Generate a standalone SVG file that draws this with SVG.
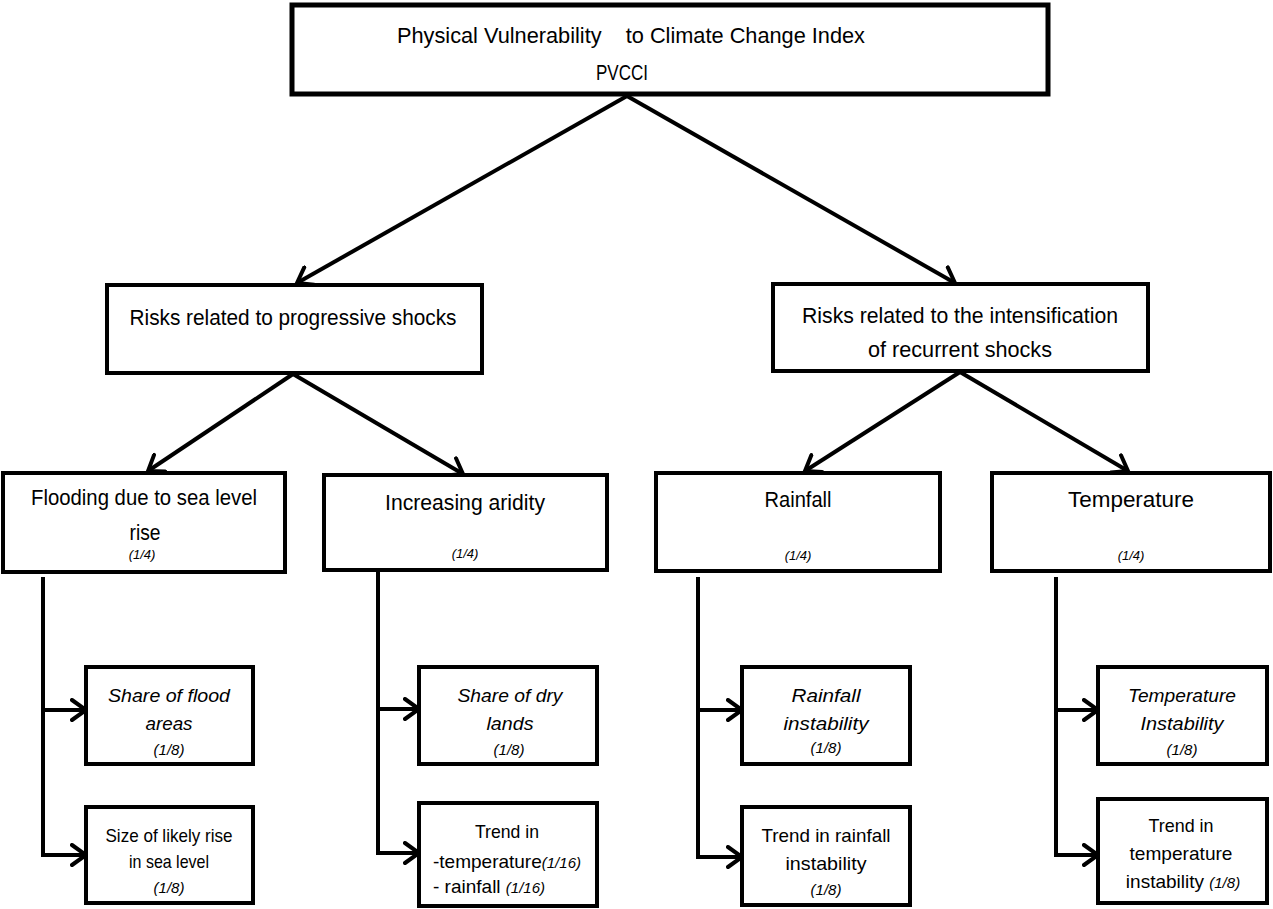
<svg xmlns="http://www.w3.org/2000/svg" width="1273" height="909" viewBox="0 0 1273 909">
<style>
.box{fill:#fff;stroke:#000;stroke-width:4}
.t{font-family:"Liberation Sans",Arial,sans-serif;font-size:22px;fill:#000;text-anchor:middle}
.s{font-family:"Liberation Sans",Arial,sans-serif;font-size:19px;fill:#000;text-anchor:middle}
.i{font-style:italic}
.f{font-size:15px}
.w{font-family:"Liberation Sans",Arial,sans-serif;font-size:13px;font-style:italic;fill:#000;text-anchor:middle}
.c{fill:none;stroke:#000;stroke-width:4;marker-end:url(#ah)}
</style>
<defs>
<marker id="ah" viewBox="0 0 18 24" refX="16" refY="12" markerWidth="18" markerHeight="24" markerUnits="userSpaceOnUse" orient="auto">
<path d="M2,2 L16,12 L2,22" fill="none" stroke="#000" stroke-width="4" stroke-linecap="round" stroke-linejoin="miter"/>
</marker>
</defs>
<g id="connectors">
<path class="c" d="M627,96 L297,283"/>
<path class="c" d="M627,96 L955,283"/>
<path class="c" d="M293,374 L148,471"/>
<path class="c" d="M293,374 L463,474"/>
<path class="c" d="M960,372 L805,471"/>
<path class="c" d="M960,372 L1128,471"/>
<path class="c" d="M43,577 V855 H86"/>
<path class="c" d="M43,710 H86"/>
<path class="c" d="M378,572 V853 H419"/>
<path class="c" d="M378,709 H419"/>
<path class="c" d="M698,577 V857 H742"/>
<path class="c" d="M698,710 H742"/>
<path class="c" d="M1056,577 V855 H1098"/>
<path class="c" d="M1056,710 H1098"/>
</g>
<g id="pvcci">
<rect class="box" x="292" y="5" width="756" height="89" style="stroke-width:5"/>
<text class="t" x="631" y="43" textLength="468" lengthAdjust="spacingAndGlyphs" style="white-space:pre">Physical Vulnerability    to Climate Change Index</text>
<text class="t" x="622" y="80" textLength="52" lengthAdjust="spacingAndGlyphs">PVCCI</text>
</g>
<g id="progressive">
<rect class="box" x="107" y="285" width="375" height="88"/>
<text class="t" x="293" y="325" textLength="327" lengthAdjust="spacingAndGlyphs">Risks related to progressive shocks</text>
</g>
<g id="recurrent">
<rect class="box" x="773" y="284" width="375" height="87"/>
<text class="t" x="960" y="323" textLength="316" lengthAdjust="spacingAndGlyphs">Risks related to the intensification</text>
<text class="t" x="960" y="357" textLength="184" lengthAdjust="spacingAndGlyphs">of recurrent shocks</text>
</g>
<g id="flooding">
<rect class="box" x="3" y="473" width="282" height="99"/>
<text class="t" x="144" y="505" textLength="226" lengthAdjust="spacingAndGlyphs">Flooding due to sea level</text>
<text class="t" x="145" y="540" textLength="31" lengthAdjust="spacingAndGlyphs">rise</text>
<text class="w" x="142" y="559">(1/4)</text>
</g>
<g id="aridity">
<rect class="box" x="324" y="475" width="283" height="95"/>
<text class="t" x="465" y="510" textLength="160" lengthAdjust="spacingAndGlyphs">Increasing aridity</text>
<text class="w" x="465" y="558">(1/4)</text>
</g>
<g id="rainfall">
<rect class="box" x="656" y="473" width="284" height="98"/>
<text class="t" x="798" y="507" textLength="67" lengthAdjust="spacingAndGlyphs">Rainfall</text>
<text class="w" x="798" y="560">(1/4)</text>
</g>
<g id="temperature">
<rect class="box" x="992" y="473" width="278" height="98"/>
<text class="t" x="1131" y="507" textLength="126" lengthAdjust="spacingAndGlyphs">Temperature</text>
<text class="w" x="1131" y="560">(1/4)</text>
</g>
<g id="share-flood">
<rect class="box" x="86" y="667" width="167" height="97"/>
<text class="s i" x="169" y="702" textLength="122" lengthAdjust="spacingAndGlyphs">Share of flood</text>
<text class="s i" x="169" y="730" textLength="47" lengthAdjust="spacingAndGlyphs">areas</text>
<text class="s i f" x="169" y="755">(1/8)</text>
</g>
<g id="sea-level">
<rect class="box" x="86" y="807" width="167" height="96"/>
<text class="s" x="169" y="842" textLength="127" lengthAdjust="spacingAndGlyphs">Size of likely rise</text>
<text class="s" x="169" y="868" textLength="80" lengthAdjust="spacingAndGlyphs">in sea level</text>
<text class="s i f" x="169" y="893">(1/8)</text>
</g>
<g id="share-dry">
<rect class="box" x="419" y="667" width="178" height="97"/>
<text class="s i" x="510" y="702" textLength="105" lengthAdjust="spacingAndGlyphs">Share of dry</text>
<text class="s i" x="510" y="730" textLength="47" lengthAdjust="spacingAndGlyphs">lands</text>
<text class="s i f" x="509" y="755">(1/8)</text>
</g>
<g id="trend-aridity">
<rect class="box" x="419" y="803" width="178" height="103"/>
<text class="s" x="507" y="838" textLength="64" lengthAdjust="spacingAndGlyphs">Trend in</text>
<text class="s" x="433" y="868" style="text-anchor:start">-temperature<tspan class="i f">(1/16)</tspan></text>
<text class="s" x="433" y="893" style="text-anchor:start">- rainfall <tspan class="i f">(1/16)</tspan></text>
</g>
<g id="rainfall-instability">
<rect class="box" x="742" y="667" width="168" height="97"/>
<text class="s i" x="826" y="702" textLength="69" lengthAdjust="spacingAndGlyphs">Rainfall</text>
<text class="s i" x="826" y="730" textLength="85" lengthAdjust="spacingAndGlyphs">instability</text>
<text class="s i f" x="826" y="753">(1/8)</text>
</g>
<g id="trend-rainfall">
<rect class="box" x="742" y="807" width="168" height="98"/>
<text class="s" x="826" y="842" textLength="129" lengthAdjust="spacingAndGlyphs">Trend in rainfall</text>
<text class="s" x="826" y="870" textLength="81" lengthAdjust="spacingAndGlyphs">instability</text>
<text class="s i f" x="826" y="895">(1/8)</text>
</g>
<g id="temperature-instability">
<rect class="box" x="1098" y="667" width="169" height="97"/>
<text class="s i" x="1182" y="702" textLength="108" lengthAdjust="spacingAndGlyphs">Temperature</text>
<text class="s i" x="1182" y="730" textLength="83" lengthAdjust="spacingAndGlyphs">Instability</text>
<text class="s i f" x="1182" y="755">(1/8)</text>
</g>
<g id="trend-temperature">
<rect class="box" x="1098" y="799" width="169" height="104"/>
<text class="s" x="1181" y="832" textLength="65" lengthAdjust="spacingAndGlyphs">Trend in</text>
<text class="s" x="1181" y="860" textLength="103" lengthAdjust="spacingAndGlyphs">temperature</text>
<text class="s" x="1183" y="888">instability <tspan class="i f">(1/8)</tspan></text>
</g>
</svg>
